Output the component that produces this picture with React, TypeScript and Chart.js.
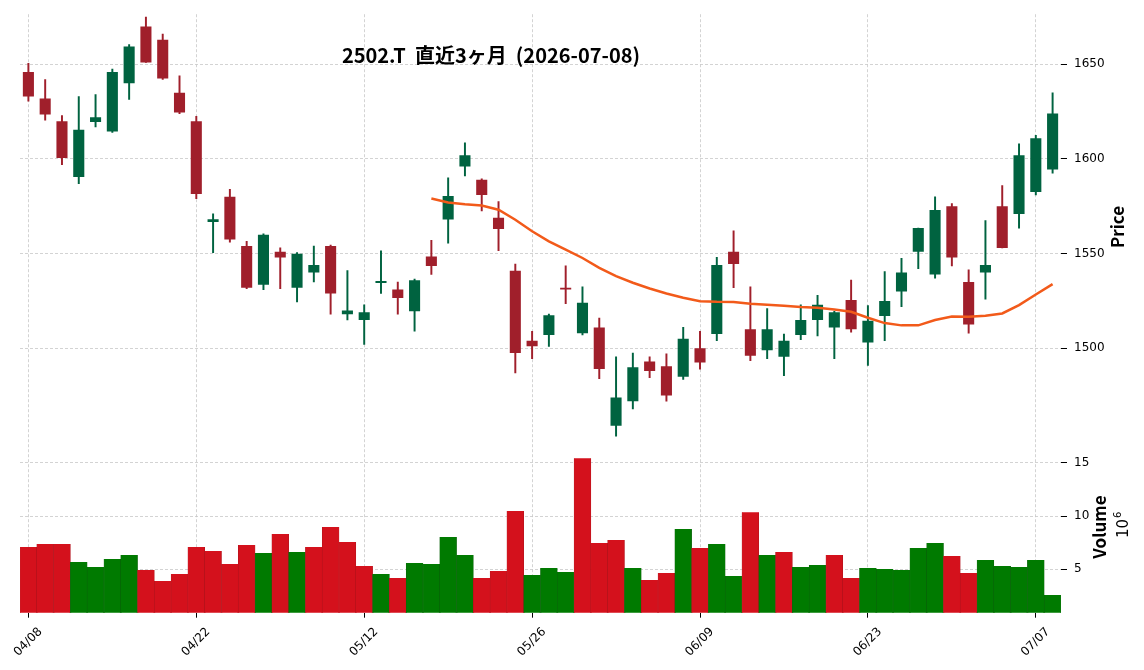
import React, { useEffect, useRef } from "react";
import { Chart, registerables } from "chart.js";

Chart.register(...registerables);

// ---- data ----
const dates = [
  "04/08", "04/09", "04/10", "04/13", "04/14", "04/15", "04/16", "04/17", "04/20", "04/21",
  "04/22", "04/23", "04/24", "04/27", "04/28", "04/30", "05/01", "05/07", "05/08", "05/11",
  "05/12", "05/13", "05/14", "05/15", "05/18", "05/19", "05/20", "05/21", "05/22", "05/25",
  "05/26", "05/27", "05/28", "05/29", "06/01", "06/02", "06/03", "06/04", "06/05", "06/08",
  "06/09", "06/10", "06/11", "06/12", "06/15", "06/16", "06/17", "06/18", "06/19", "06/22",
  "06/23", "06/24", "06/25", "06/26", "06/29", "06/30", "07/01", "07/02", "07/03", "07/06",
  "07/07", "07/08",
];

const xTickLabels = ["04/08", "04/22", "05/12", "05/26", "06/09", "06/23", "07/07"];

const opens = [
  1646, 1632, 1620, 1590.5, 1619.5, 1614.5, 1640, 1670, 1663, 1635,
  1620, 1566.7, 1580, 1554, 1533.5, 1551, 1532, 1540, 1554, 1518,
  1515, 1534.5, 1531, 1519.5, 1548.5, 1568, 1596, 1589, 1569, 1541,
  1504, 1507, 1532, 1508, 1511, 1459, 1472, 1493, 1490.5, 1485,
  1500, 1507.5, 1551, 1510, 1499, 1495.5, 1507, 1515, 1511, 1525.5,
  1503, 1517, 1530, 1551, 1539, 1575, 1535, 1540, 1575, 1571,
  1582.5, 1594.5,
];
const highs = [
  1650.5, 1642, 1623, 1633, 1634, 1647.5, 1660.5, 1675, 1666, 1644,
  1622.5, 1571, 1584, 1556.5, 1560.5, 1553, 1550.5, 1554, 1554.5, 1541,
  1523, 1551.5, 1535, 1536.5, 1557, 1590, 1608.5, 1589.5, 1577.5, 1544.5,
  1509, 1518, 1543.5, 1532.5, 1516, 1495.5, 1497.5, 1495.5, 1497, 1511,
  1509, 1548, 1562, 1532.5, 1521, 1507.5, 1523, 1528, 1519.5, 1536,
  1522.5, 1540.5, 1547.5, 1563.5, 1580, 1576.5, 1541.5, 1567.5, 1586, 1608,
  1612.5, 1635,
];
const lows = [
  1630.5, 1620.5, 1597, 1587, 1617, 1614, 1631.5, 1651, 1642, 1624,
  1579, 1550.5, 1556, 1531.5, 1531, 1531.5, 1524.5, 1535, 1518, 1515,
  1502, 1529, 1518, 1509, 1539, 1555.5, 1591, 1572.5, 1551.5, 1487,
  1494.5, 1501, 1523.5, 1507, 1484, 1453.5, 1468, 1484.5, 1472, 1483.5,
  1489, 1504, 1532, 1493.5, 1494.5, 1485.5, 1504.5, 1506.5, 1494.5, 1508.5,
  1491, 1504, 1522, 1542, 1537, 1543.5, 1508, 1526, 1553, 1563.5,
  1581, 1592.5,
];
const closes = [
  1633, 1623.5, 1600.5, 1615.5, 1622, 1646, 1659.5, 1651, 1642.5, 1624.5,
  1581.5, 1568.1, 1557.5, 1532, 1560, 1548, 1550, 1544, 1529, 1520,
  1519, 1535.5, 1526.5, 1536, 1543.5, 1580.5, 1602, 1581, 1563, 1497.5,
  1501, 1517.5, 1531, 1524, 1489, 1474, 1490, 1488, 1475, 1505,
  1492.5, 1544, 1544.5, 1496, 1510, 1504, 1515, 1523, 1519, 1510,
  1514.5, 1525, 1540, 1563.5, 1573, 1548, 1512.5, 1544, 1553, 1602,
  1611, 1624,
];
// volume in millions of shares
const volumes = [
  7.09, 7.375, 7.375, 5.69, 5.22, 5.97, 6.34, 4.94, 3.91, 4.56,
  7.09, 6.72, 5.5, 7.28, 6.53, 8.31, 6.63, 7.09, 8.97, 7.56,
  5.31, 4.56, 4.19, 5.59, 5.5, 8.03, 6.34, 4.19, 4.84, 10.47,
  4.47, 5.13, 4.75, 15.44, 7.47, 7.75, 5.13, 4.0, 4.66, 8.78,
  7.0, 7.375, 4.375, 10.375, 6.34, 6.63, 5.22, 5.41, 6.34, 4.19,
  5.13, 5.03, 4.94, 7.0, 7.47, 6.25, 4.66, 5.875, 5.31, 5.22,
  5.875, 2.59,
];
// 25-day moving average of closes
const ma25 = [
  null, null, null, null, null, null, null, null, null, null,
  null, null, null, null, null, null, null, null, null, null,
  null, null, null, null, 1579.1, 1577.0, 1576.1, 1575.4, 1573.2, 1567.9,
  1561.8, 1556.5, 1552.1, 1547.7, 1542.5, 1538.1, 1534.6, 1531.6, 1528.9, 1526.7,
  1524.9, 1524.6, 1524.5, 1523.5, 1523.0, 1522.5, 1521.8, 1521.4, 1520.5, 1519.3,
  1516.1, 1513.3, 1512.1, 1512.1, 1514.9, 1516.8, 1516.7, 1517.2, 1518.4, 1522.8,
  1528.4, 1533.9,
];

const priceTicks = [1500, 1550, 1600, 1650];
const volumeTicks = [5, 10, 15];

const titleText = "2502.T  直近3ヶ月  (2026-07-08)";

// ---- styles ----
const UP = "#006340";
const DOWN = "#a01f2b";
const VUP = "#007a00";
const VDOWN = "#d4111c";
const MA_COLOR = "#f25a1a";
const GRID = "#c8c8c8";
const TICK_FONT = { family: "'DejaVu Sans', sans-serif", size: 12 };

export default function App() {
  const ref = useRef<HTMLCanvasElement>(null);

  useEffect(() => {
    const canvas = ref.current;
    if (!canvas) return;
    const up = opens.map((o, i) => closes[i] >= o);
    const volUp = closes.map((c, i) => i > 0 && c >= closes[i - 1]);
    const xTickSet = new Set(xTickLabels);

    const textPlugin = {
      id: "extraTexts",
      afterDraw(chart: any) {
        const c = chart.ctx as CanvasRenderingContext2D;
        c.save();
        c.fillStyle = "#000";
        c.textAlign = "center";
        c.textBaseline = "middle";
        // title
        c.font = "bold 20px 'Noto Sans CJK JP', sans-serif";
        c.fillText(titleText, 491, 55);
        // Price label
        c.save();
        c.translate(1118, 227);
        c.rotate(-Math.PI / 2);
        c.font = "bold 17px 'Noto Sans CJK JP', sans-serif";
        c.fillText("Price", 0, 0);
        c.restore();
        // Volume label
        c.save();
        c.translate(1100, 527);
        c.rotate(-Math.PI / 2);
        c.font = "bold 17px 'Noto Sans CJK JP', sans-serif";
        c.fillText("Volume", 0, 0);
        c.restore();
        // 10^6
        c.save();
        c.translate(1124, 526);
        c.rotate(-Math.PI / 2);
        c.textAlign = "left";
        c.font = "15px 'DejaVu Sans', sans-serif";
        const w = c.measureText("10").width;
        c.fillText("10", -12, 0);
        c.font = "10px 'DejaVu Sans', sans-serif";
        c.fillText("6", -12 + w + 1, -6);
        c.restore();
        c.restore();
      },
    };

    const chart = new Chart(canvas, {
      type: "bar",
      data: {
        labels: dates,
        datasets: [
          {
            type: "line",
            label: "MA25",
            data: ma25 as any,
            yAxisID: "y",
            borderColor: MA_COLOR,
            borderWidth: 2.5,
            pointRadius: 0,
            tension: 0,
            spanGaps: false,
            order: 0,
          } as any,
          {
            label: "body",
            data: opens.map((o, i) => [Math.min(o, closes[i]), Math.max(o, closes[i])]) as any,
            backgroundColor: up.map((u) => (u ? UP : DOWN)),
            barPercentage: 0.66,
            categoryPercentage: 1,
            grouped: false,
            yAxisID: "y",
            minBarLength: 1,
            order: 1,
          } as any,
          {
            label: "wick",
            data: lows.map((l, i) => [l, highs[i]]) as any,
            backgroundColor: up.map((u) => (u ? UP : DOWN)),
            barThickness: 1.3,
            grouped: false,
            yAxisID: "y",
            order: 2,
          } as any,
          {
            label: "volume",
            data: volumes,
            backgroundColor: volUp.map((u) => (u ? VUP : VDOWN)),
            borderColor: volUp.map((u) => (u ? "#0b5e0b" : "#a8141c")),
            borderWidth: { left: 0.5, right: 0.5, top: 0, bottom: 0 },
            barPercentage: 1,
            categoryPercentage: 1,
            grouped: false,
            yAxisID: "yv",
            order: 3,
          } as any,
        ],
      },
      options: {
        responsive: false,
        animation: false,
        layout: { padding: { left: 20, top: 12, right: 0, bottom: 0 } },
        plugins: {
          legend: { display: false },
          tooltip: { enabled: false },
          title: { display: false },
        },
        scales: {
          x: {
            type: "category",
            offset: true,
            grid: {
              offset: false,
              color: GRID,
              lineWidth: 0.8,
              drawTicks: true,
              tickColor: "#000",
              tickLength: 5,
              tickWidth: 1,
              tickBorderDash: [],
            } as any,
            border: { display: false, dash: [3, 2] },
            ticks: {
              autoSkip: false,
              maxRotation: 45,
              minRotation: 45,
              color: "#000",
              font: TICK_FONT,
              padding: 7,
              labelOffset: 12,
            },
            afterBuildTicks: (s: any) => {
              s.ticks = s.ticks.filter((t: any) => xTickSet.has(dates[t.value]));
            },
            afterFit: (s: any) => {
              s.height = 57.3;
              s.paddingLeft = 0;
              s.paddingRight = 0;
            },
          } as any,
          y: {
            type: "linear",
            position: "right",
            stack: "panels",
            stackWeight: 428,
            min: 1451.2,
            max: 1676.5,
            grid: {
              color: GRID,
              lineWidth: 0.8,
              tickColor: "#000",
              tickLength: 6,
              tickWidth: 1,
              tickBorderDash: [],
            } as any,
            border: { display: false, dash: [3, 2] },
            ticks: {
              color: "#000",
              font: TICK_FONT,
              padding: 7,
              callback: (v: any) => String(v),
            },
            afterBuildTicks: (s: any) => {
              s.ticks = priceTicks.map((v) => ({ value: v }));
            },
            afterFit: (s: any) => {
              s.width = 83;
            },
          } as any,
          yv: {
            type: "linear",
            position: "right",
            stack: "panels",
            stackWeight: 172.7,
            min: 0.93,
            max: 17.09,
            grid: {
              color: GRID,
              lineWidth: 0.8,
              tickColor: "#000",
              tickLength: 6,
              tickWidth: 1,
              tickBorderDash: [],
            } as any,
            border: { display: false, dash: [3, 2] },
            ticks: {
              color: "#000",
              font: TICK_FONT,
              padding: 7,
              callback: (v: any) => String(v),
            },
            afterBuildTicks: (s: any) => {
              s.ticks = volumeTicks.map((v) => ({ value: v }));
            },
            afterFit: (s: any) => {
              s.width = 83;
            },
          } as any,
        },
      },
      plugins: [textPlugin],
    });

    return () => chart.destroy();
  }, []);

  return (
    <div style={{ position: "absolute", left: 0, top: 0, width: 1144, height: 670, background: "#fff" }}>
      <canvas ref={ref} width={1144} height={670} style={{ display: "block" }} />
    </div>
  );
}
